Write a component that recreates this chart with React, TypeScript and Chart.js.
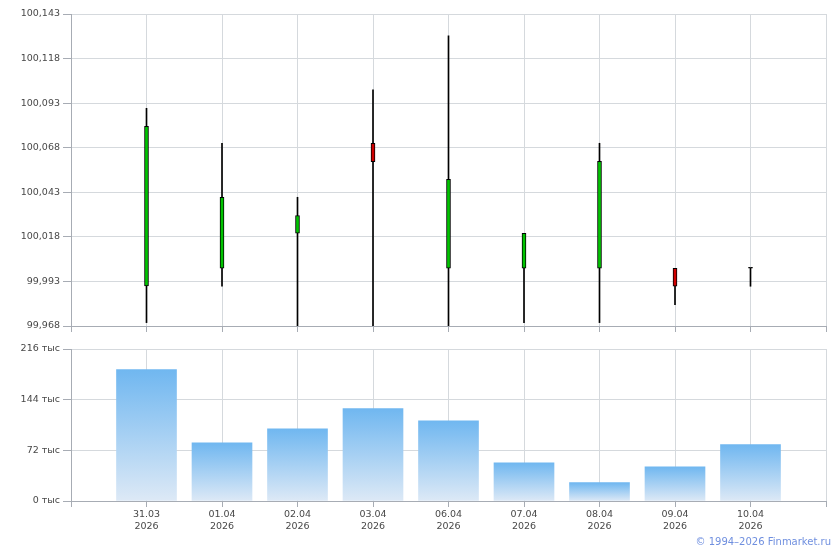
import React, { useEffect, useRef } from 'react';
import { Chart, registerables } from 'chart.js';

Chart.register(...registerables);

// ---- Data ----
const DATES = ['31.03', '01.04', '02.04', '03.04', '06.04', '07.04', '08.04', '09.04', '10.04'];
const YEAR = '2026';
const OPEN = [99.9905, 100.0004, 100.0200, 100.0705, 100.0004, 100.0004, 100.0004, 100.0004, 100.0004];
const CLOSE = [100.0800, 100.0402, 100.0300, 100.0602, 100.0503, 100.0200, 100.0604, 99.9903, 100.0004];
const HIGH = [100.0901, 100.0705, 100.0402, 100.1004, 100.1307, 100.0200, 100.0705, 100.0004, 100.0004];
const LOW = [99.9699, 99.9903, 99.968, 99.968, 99.968, 99.9699, 99.9699, 99.9800, 99.9903];
const VOLUME = [186600, 82800, 102700, 131200, 114100, 54400, 26000, 48700, 80000];
const PRICE_TICKS = [99.968, 99.993, 100.018, 100.043, 100.068, 100.093, 100.118, 100.143];
const VOLUME_TICKS = [0, 72000, 144000, 216000];

// ---- Styles ----
const FONT = 'DejaVu Sans';
const TEXT = '#484848';
const GRID = '#d5d9dd';
const AXIS = '#a7acb4';
const GREEN = '#00c400';
const RED = '#d00000';
const BAR_TOP = '#70b7f0';
const BAR_BOTTOM = '#dde9f6';

export default function App() {
  const topRef = useRef<HTMLCanvasElement>(null);
  const botRef = useRef<HTMLCanvasElement>(null);

  useEffect(() => {
    const pad = (arr: any[]) => [null, ...arr, null];
    const labels: any[] = ['', ...DATES.map((d) => [d, YEAR]), ''];
    const bodies = pad(OPEN.map((o, i) => [o, CLOSE[i]]));
    const wicks = pad(LOW.map((l, i) => [l, HIGH[i]]));
    const bodyColors = pad(
      OPEN.map((o, i) => (CLOSE[i] > o ? GREEN : CLOSE[i] < o ? RED : '#000000'))
    );
    const volumes = pad(VOLUME);

    const font = { family: FONT, size: 9.5, lineHeight: '12px' };

    const xAxis = (showLabels: boolean, height: number) => ({
      type: 'category' as const,
      offset: false,
      grid: { offset: false, color: GRID, tickColor: AXIS, tickLength: 6 },
      border: { color: AXIS },
      ticks: {
        autoSkip: false,
        maxRotation: 0,
        padding: 2,
        color: TEXT,
        font,
        callback: function (this: any, v: any, i: number) {
          return showLabels ? labels[i] : '';
        },
      },
      afterFit: (s: any) => {
        s.height = height;
      },
    });

    const top = new Chart(topRef.current as HTMLCanvasElement, {
      type: 'bar',
      data: {
        labels,
        datasets: [
          {
            data: wicks as any,
            backgroundColor: '#000000',
            borderWidth: 0,
            barThickness: 1,
            grouped: false,
            order: 2,
          },
          {
            data: bodies as any,
            backgroundColor: bodyColors as any,
            borderColor: '#000000',
            borderWidth: 1,
            borderSkipped: false,
            barThickness: 4,
            minBarLength: 1,
            grouped: false,
            order: 1,
          },
        ],
      },
      options: {
        responsive: false,
        animation: false,
        layout: { padding: { top: 14, right: 14, left: 0, bottom: 0 } },
        plugins: { legend: { display: false }, tooltip: { enabled: false } },
        scales: {
          x: xAxis(false, 14) as any,
          y: {
            min: PRICE_TICKS[0],
            max: PRICE_TICKS[PRICE_TICKS.length - 1],
            afterBuildTicks: (s: any) => {
              s.ticks = PRICE_TICKS.map((v) => ({ value: v }));
            },
            grid: { color: GRID, tickColor: AXIS, tickLength: 8 },
            border: { color: AXIS },
            ticks: {
              padding: 3,
              color: TEXT,
              font,
              callback: (v: any) => Number(v).toFixed(3).replace('.', ','),
            },
            afterFit: (s: any) => {
              s.width = 71;
            },
          },
        },
      },
    });

    const bot = new Chart(botRef.current as HTMLCanvasElement, {
      type: 'bar',
      data: {
        labels,
        datasets: [
          {
            data: volumes as any,
            barThickness: 60,
            borderWidth: 0,
            backgroundColor: (ctx: any) => {
              const chart = ctx.chart;
              const y = chart.scales && chart.scales.y;
              if (ctx.type !== 'data' || !y || ctx.raw == null) return BAR_TOP;
              const yTop = y.getPixelForValue(ctx.raw);
              const yBot = y.getPixelForValue(0);
              if (!isFinite(yTop) || !isFinite(yBot) || yTop === yBot) return BAR_TOP;
              const g = chart.ctx.createLinearGradient(0, yTop, 0, yBot);
              g.addColorStop(0, BAR_TOP);
              g.addColorStop(1, BAR_BOTTOM);
              return g;
            },
          },
        ],
      },
      options: {
        responsive: false,
        animation: false,
        layout: { padding: { top: 9, right: 14, left: 0, bottom: 0 } },
        plugins: { legend: { display: false }, tooltip: { enabled: false } },
        scales: {
          x: xAxis(true, 49) as any,
          y: {
            min: 0,
            max: VOLUME_TICKS[VOLUME_TICKS.length - 1],
            afterBuildTicks: (s: any) => {
              s.ticks = VOLUME_TICKS.map((v) => ({ value: v }));
            },
            grid: { color: GRID, tickColor: AXIS, tickLength: 8 },
            border: { color: AXIS },
            ticks: {
              padding: 3,
              color: TEXT,
              font,
              callback: (v: any) => `${Math.round(Number(v) / 1000)} тыс`,
            },
            afterFit: (s: any) => {
              s.width = 71;
            },
          },
        },
      },
    });

    return () => {
      top.destroy();
      bot.destroy();
    };
  }, []);

  return (
    <div style={{ position: 'absolute', left: 0, top: 0, width: 840, height: 550, background: '#fff', overflow: 'hidden' }}>
      <canvas ref={topRef} width={840} height={340} style={{ position: 'absolute', left: 0, top: 0, width: 840, height: 340 }} />
      <canvas ref={botRef} width={840} height={210} style={{ position: 'absolute', left: 0, top: 340, width: 840, height: 210 }} />
      <div
        style={{
          position: 'absolute',
          left: 0,
          top: 536,
          width: 831,
          textAlign: 'right',
          fontFamily: FONT,
          fontSize: 10,
          lineHeight: '12px',
          color: '#6f8fdf',
          whiteSpace: 'nowrap',
        }}
      >
        © 1994–2026 Finmarket.ru
      </div>
    </div>
  );
}
